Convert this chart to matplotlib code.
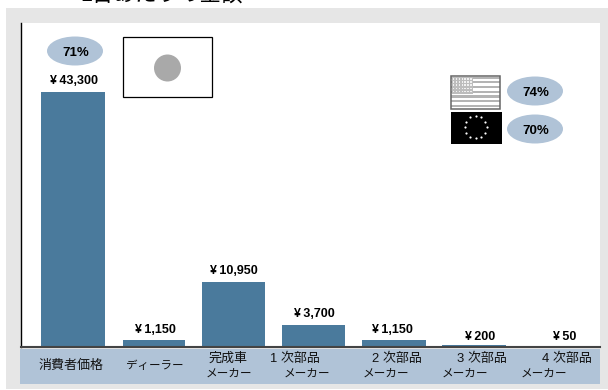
import numpy as np
import matplotlib
matplotlib.use("Agg")
import matplotlib.pyplot as plt
from matplotlib.patches import Rectangle, Ellipse

plt.rcParams['font.family'] = ['Liberation Sans', 'Noto Sans CJK JP', 'DejaVu Sans']

W, H = 608, 390

labels = ['消費者価格', 'ディーラー', '完成車', '1 次部品', '2 次部品', '3 次部品', '4 次部品']
labels2 = ['', '', 'メーカー', 'メーカー', 'メーカー', 'メーカー', 'メーカー']
values = [43300, 1150, 10950, 3700, 1150, 200, 50]
value_text = ['¥\u200943,300', '¥\u20091,150', '¥\u200910,950', '¥\u20093,700', '¥\u20091,150', '¥\u2009200', '¥\u200950']
shares = ['71%', '74%', '70%']

# left edge and width of each bar in pixels
bar_left = [41, 123, 202, 282, 362, 442, 522]
bar_width = [64, 62, 63, 63, 64, 64, 64]
text_x = [73.5, 155, 233.5, 314, 392, 480, 565]
text_y = [81, 330, 271, 314, 330, 337, 337]
label_x = [71, 154.5, 228.5, 295, 396.5, 481.5, 567]
label2_x = [None, None, 228.5, 307, 386, 465, 543.5]

BLUE = '#4a7a9c'
PALE = '#b0c3d7'
GREY = '#e6e6e6'

fig = plt.figure(figsize=(W / 100, H / 100), dpi=100)

# whole figure drawn in pixel coordinates, y going down
bg = fig.add_axes([0, 0, 1, 1])
bg.set_xlim(0, W)
bg.set_ylim(H, 0)
bg.axis('off')
bg.add_patch(Rectangle((6, 8), W - 6, 381, fc=GREY, ec='none'))
bg.add_patch(Rectangle((21, 23), 579, 324, fc='white', ec='none'))
bg.add_patch(Rectangle((20, 349), 580, 35, fc=PALE, ec='none'))
bg.text(162, -5, '1台あたりの金額', fontsize=15.5, ha='center', va='center', color='black')

# bars share the baseline at y=346.5, value scale from the tallest bar
scale = 254.5 / values[0]
for v, x, w in zip(values, bar_left, bar_width):
    bg.add_patch(Rectangle((x, 346.5 - v * scale), w, v * scale, fc=BLUE, ec='none'))

for t, x, y in zip(value_text, text_x, text_y):
    bg.text(x, y, t, fontsize=9, fontweight='bold', ha='center', va='center')

bg.plot([21, 21], [23, 347], color='black', lw=1.0)
bg.plot([21, 600], [346.7, 346.7], color='#444444', lw=1.5)

for i, (t, x) in enumerate(zip(labels, label_x)):
    y = 366 if i < 2 else 358.5
    size = 8.3 if i == 1 else 9.4
    bg.text(x, y, t, fontsize=size, ha='center', va='center', color='#111111')
for t, x in zip(labels2, label2_x):
    if t:
        bg.text(x, 374, t, fontsize=8.4, ha='center', va='center', color='#111111')

# share ovals
for t, (x, y) in zip(shares, [(75, 51), (535, 91), (535, 129)]):
    bg.add_patch(Ellipse((x, y), 56, 29, fc=PALE, ec='none'))
    bg.text(x + 1, y + 1.5, t, fontsize=9.5, fontweight='bold', ha='center', va='center')

# Japanese flag
bg.add_patch(Rectangle((123, 37), 88.5, 60, fc='white', ec='black', lw=0.9))
bg.add_patch(Ellipse((167.5, 68), 27, 27, fc='#a9a9a9', ec='none'))

# US flag in greys
bg.add_patch(Rectangle((451, 76), 49, 32.5, fc='white', ec='none'))
for i in range(7):
    bg.add_patch(Rectangle((451, 76.5 + i * 4.7), 49, 2.3, fc='#b4b4b4', ec='none'))
bg.add_patch(Rectangle((452, 77), 21, 17, fc='#bdbdbd', ec='none'))
for r in range(5):
    for c in range(7):
        bg.add_patch(Rectangle((452.8 + c * 2.9, 78 + r * 3.2), 1.6, 1.6, fc='#f0f0f0', ec='none'))
bg.add_patch(Rectangle((451, 76), 49, 32.5, fc='none', ec='#666666', lw=1.1))

# EU flag
bg.add_patch(Rectangle((451, 112), 51, 32, fc='black', ec='none'))
ang = np.arange(12) * np.pi / 6
bg.scatter(475.5 + 11 * np.sin(ang), 127 - 11 * np.cos(ang), s=2.5, c='white', linewidths=0)

fig.savefig('out.png', dpi=100)
